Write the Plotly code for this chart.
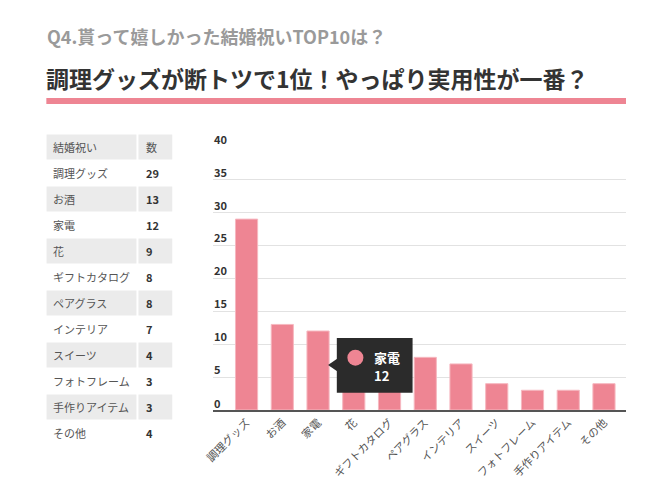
import plotly.graph_objects as go

categories = ["調理グッズ", "お酒", "家電", "花", "ギフトカタログ", "ペアグラス",
              "インテリア", "スイーツ", "フォトフレーム", "手作りアイテム", "その他"]
counts = [29, 13, 12, 9, 8, 8, 7, 4, 3, 3, 4]
y_ticks = [0, 5, 10, 15, 20, 25, 30, 35, 40]
table_header = ["結婚祝い", "数"]
title_small = "Q4.貰って嬉しかった結婚祝いTOP10は？"
title_main = "調理グッズが断トツで1位！やっぱり実用性が一番？"
tooltip_index = 2

W, H = 672, 495
FONT = "Noto Sans CJK JP"
PINK = "#ee8593"
GRAY = "#ebebeb"

def px(x):
    # compensate the horizontal offset observed in the rendered page
    return ((x - 10.7) / 0.984) / W

def py(y):
    return 1 - y / H

fig = go.Figure()

# bars
fig.add_trace(go.Bar(
    x=list(range(len(categories))), y=counts,
    width=0.62,
    marker=dict(color=PINK, line=dict(color="#f6b8c0", width=1)),
    hoverinfo="skip", showlegend=False,
))
n = len(categories)
# invisible trace to activate the table axes
fig.add_trace(go.Scatter(x=[0], y=[0], xaxis="x2", yaxis="y2", mode="markers",
                         marker=dict(opacity=0), hoverinfo="skip", showlegend=False))

shapes = []
annotations = []

# ---- table (rows on axis y2, 1 unit per row; x2 in table pixels) ----
COL1_W, COL2_X, TBL_W = 90, 92, 126
rows = [(table_header[0], table_header[1], True)] + \
       [(c, str(v), False) for c, v in zip(categories, counts)]
for i, (name, val, is_header) in enumerate(rows):
    if i % 2 == 0:
        for x0, x1 in ((0, COL1_W), (COL2_X, TBL_W)):
            shapes.append(dict(type="rect", xref="x2", yref="y2", x0=x0, x1=x1,
                               y0=i - 0.48, y1=i + 0.48, fillcolor=GRAY,
                               line=dict(width=0), layer="below"))
    annotations.append(dict(xref="x2", yref="y2", x=5, y=i, xanchor="left", yanchor="middle",
                            text=name, showarrow=False,
                            font=dict(family=FONT, size=11, color="#555")))
    annotations.append(dict(xref="x2", yref="y2", x=COL2_X + 6, y=i, xanchor="left",
                            yanchor="middle",
                            text=val if is_header else f"<b>{val}</b>", showarrow=False,
                            font=dict(family=FONT, size=11, color="#555" if is_header else "#333")))

# ---- tooltip decoration anchored to the 家電 bar ----
bx = tooltip_index + 0.31  # bar right edge
tip_y = 6.84
L, R, T, B = bx + 0.215, bx + 2.335, 10.94, 2.63
shapes.append(dict(type="path", xref="x", yref="y",
                   path=f"M {bx-0.03},{tip_y} L {L+0.01},{tip_y+0.95} L {L+0.01},{tip_y-0.95} Z",
                   fillcolor="#2b2b2b", line=dict(width=0)))
shapes.append(dict(type="rect", xref="x", yref="y", x0=L, x1=R, y0=B, y1=T,
                   fillcolor="#2b2b2b", line=dict(width=0)))
cx, cy = bx + 0.735, 7.95
shapes.append(dict(type="circle", xref="x", yref="y",
                   x0=cx - 0.224, x1=cx + 0.224, y0=cy - 1.216, y1=cy + 1.216,
                   fillcolor=PINK, line=dict(width=0)))
annotations += [
    dict(xref="x", yref="y", x=bx + 1.2, y=cy, xanchor="left", yanchor="middle",
         text=f"<b>{categories[tooltip_index]}</b>", showarrow=False,
         font=dict(family=FONT, size=13, color="white")),
    dict(xref="x", yref="y", x=bx + 1.2, y=5.21, xanchor="left", yanchor="middle",
         text=f"<b>{counts[tooltip_index]}</b>", showarrow=False,
         font=dict(family=FONT, size=13, color="white")),
]

# ---- pink rule and titles ----
shapes.append(dict(type="rect", xref="paper", yref="paper",
                   x0=px(47), x1=px(626), y0=py(104), y1=py(98),
                   fillcolor=PINK, line=dict(width=0)))
annotations += [
    dict(xref="paper", yref="paper", x=px(46), y=py(36), xanchor="left", yanchor="middle",
         text=f"<b>{title_small}</b>", showarrow=False,
         font=dict(family=FONT, size=18, color="#9a9a9a")),
    dict(xref="paper", yref="paper", x=px(45), y=py(78), xanchor="left", yanchor="middle",
         text=f"<b>{title_main}</b>", showarrow=False,
         font=dict(family=FONT, size=23, color="#333333")),
]

# ---- y tick labels above the gridlines ----
for t in y_ticks:
    annotations.append(dict(xref="paper", yref="y", x=px(212), y=t, xanchor="left",
                            yanchor="middle", yshift=8 if t else 7, text=f"<b>{t}</b>",
                            showarrow=False,
                            font=dict(family=FONT, size=11, color="#333")))

Y_TOP = 40.05
ppu = (410 - 146.7) / 40
fig.update_layout(
    width=W, height=H,
    margin=dict(l=0, r=0, t=0, b=0),
    paper_bgcolor="white", plot_bgcolor="rgba(0,0,0,0)",
    font=dict(family=FONT),
    shapes=shapes, annotations=annotations,
    xaxis=dict(domain=[px(213), px(626)], range=[-0.952, 10.616],
               tickmode="array", tickvals=list(range(n)), ticktext=categories,
               tickangle=-45, tickfont=dict(family=FONT, size=11, color="#555"),
               showgrid=False, showline=True, linecolor="#555", linewidth=2,
               ticks="", zeroline=False, fixedrange=True),
    yaxis=dict(domain=[py(410), py(410 - Y_TOP * ppu)], range=[0, Y_TOP],
               tickmode="array", tickvals=y_ticks, showticklabels=False,
               showgrid=True, gridcolor="#e2e2e2", gridwidth=1,
               zeroline=False, showline=False, ticks="", fixedrange=True),
    xaxis2=dict(domain=[px(47), px(47 + TBL_W)], range=[0, TBL_W], visible=False,
                fixedrange=True, anchor="y2"),
    yaxis2=dict(domain=[py(134 + 26 * 12), py(134)], range=[11.5, -0.5], visible=False,
                fixedrange=True, anchor="x2"),
)

fig.write_html(
    "out.html",
    config={"displayModeBar": False, "responsive": False},
    post_script=("document.body.style.margin='0';"
                 "document.body.style.overflow='hidden';"
                 "document.documentElement.style.overflow='hidden';"),
)
